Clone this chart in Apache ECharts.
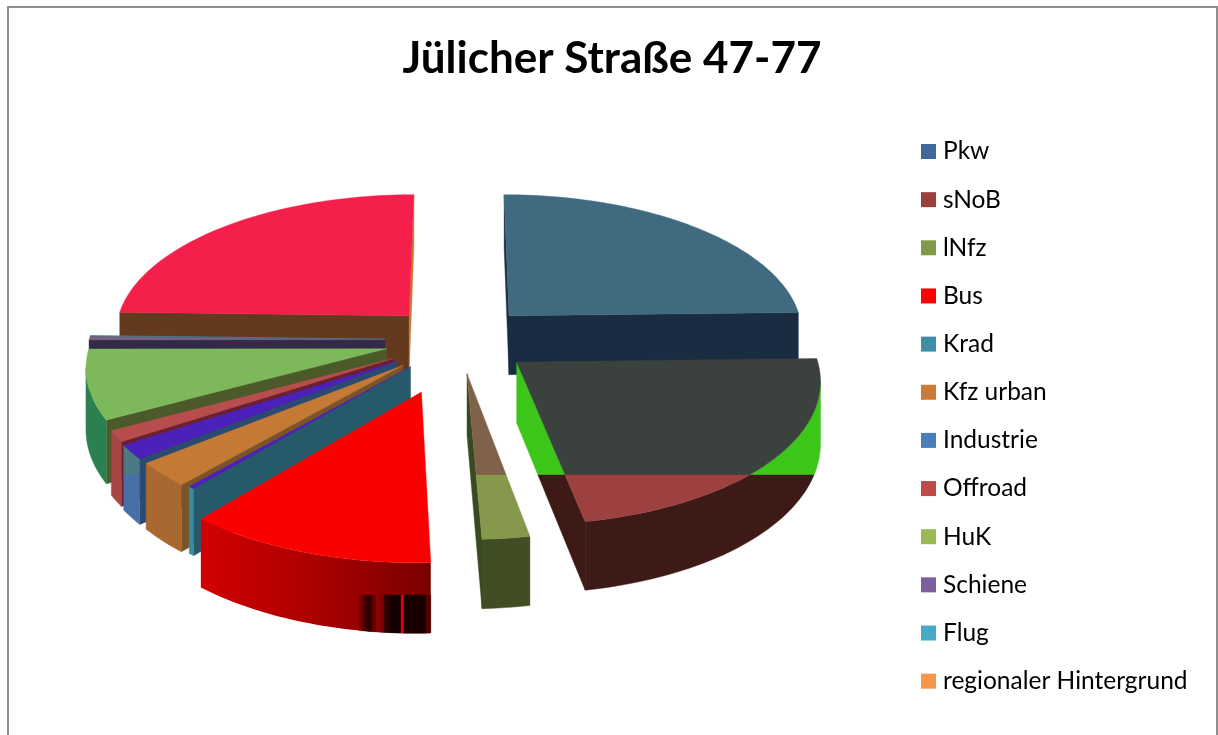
<!DOCTYPE html>
<html><head><meta charset="utf-8">
<style>html,body{margin:0;padding:0;background:#fff}#c{width:1218px;height:735px}</style>
<script src="https://cdn.jsdelivr.net/npm/echarts@6/dist/echarts.min.js"></script>
</head><body><div id="c"></div>
<script>
const titleText = 'Jülicher Straße 47-77';
const categories = ['Pkw','sNoB','lNfz','Bus','Krad','Kfz urban','Industrie','Offroad','HuK','Schiene','Flug','regionaler Hintergrund'];
const shares = [24.6,22.5,2.25,11.75,0.3,2.8,1.62,1.25,7.9,0.4,0.05,24.58];
const legendColors = ['#3f689b','#9b3f3d','#7f9a48','#ff0000','#3d8ea6','#cb7a37','#4a7ebb','#be4b48','#98b954','#7d5fa0','#46aac4','#f79646'];
const explode = [73,73,70,112,73,76,76,75,74,74,74,73];
const drawOrder = [11,10,9,8,7,6,5,4,0,1,2,3];
const faceStyles = [
 {top:'#3f6a80',start:'#1a2c42',end:'#1a2c42',outer:'#1a2c42'},
 {top:'#9c4040',topA:'#3b413c',start:'#3e1a16',end:'#3e1a16',endA:'#3cc61a',outer:'#3e1a16',outerA:'#3cc61a'},
 {top:'#85984c',topA:'#80624a',start:'#3d4a20',end:'#3a4a20',outer:'#414e24'},
 {top:'#fb0000',start:'#900',end:'#900',outer:'grad'},
 {top:'#4b20bb',start:'#265a6b',end:'#265a6b',outer:'#3a8a9f'},
 {top:'#c47935',start:'#7a5428',end:'#7a5428',outer:'#a86830'},
 {top:'#4b20bb',start:'#2a4a72',end:'#2a4a72',outer:'#4870a8',outerA:'#4a7a85'},
 {top:'#b84d4d',start:'#6a2030',end:'#6a2030',outer:'#a84545'},
 {top:'#7db95a',start:'#4c5a2a',end:'#4c5a2a',outer:'#2a8050'},
 {top:'#7a6080',start:'#322a48',end:'#322a48',outer:'#322a48'},
 {top:'#3d8ea6',start:'#265a6b',end:'#265a6b',outer:'#265a6b'},
 {top:'#f41f4a',start:'#643a1e',end:'#c47a30',outer:'#643a1e'}
];
const stripes = [[359,363,'#700000'],[363,366,'#500000'],[366,372,'#300000'],[372,376,'#600000'],[376,380,'#900000'],[380,384,'#800000'],[384,390,'#300000'],[390,401,'#140000'],[401,404,'#e00000'],[404,426,'#180000'],[426,431,'#500000']];

const CX=459, CY=340, R=296, RY=139.5, K=0.11, H=60, BAND=475, STRIPE_Y=595;
const total = shares.reduce((a,b)=>a+b,0);
const startOf = i => shares.slice(0,i).reduce((a,b)=>a+b,0)/total*360;
const rad = d => d*Math.PI/180;
function proj(X,Y,z){const s=1/(1-K*Y/R);return [CX+X*s, CY+RY/R*Y*s+z*H*s];}
function clip(poly,axis,keepLess,v){
  const out=[];
  for(let i=0;i<poly.length;i++){
    const a=poly[i],b=poly[(i+1)%poly.length];
    const ai=keepLess?a[axis]<=v:a[axis]>=v, bi=keepLess?b[axis]<=v:b[axis]>=v;
    if(ai)out.push(a);
    if(ai!==bi){const t=(v-a[axis])/(b[axis]-a[axis]);out.push([a[0]+t*(b[0]-a[0]),a[1]+t*(b[1]-a[1])]);}
  }
  return out;
}
function makeRender(idx){
  return function(params,api){
    const share=api.value(0);
    const t0=startOf(idx), t1=t0+share/total*360, m=rad((t0+t1)/2), E=explode[idx], st=faceStyles[idx];
    const ox=E*Math.sin(m), oy=-E*Math.cos(m);
    const at=(d,z)=>proj(ox+R*Math.sin(rad(d)),oy-R*Math.cos(rad(d)),z);
    const apex=z=>proj(ox,oy,z);
    const n=Math.max(2,Math.ceil((t1-t0)/1.5));
    const arc=[];for(let i=0;i<=n;i++)arc.push(t0+(t1-t0)*i/n);
    const children=[];
    const put=(pts,fill)=>{if(pts.length>2)children.push({type:'polygon',silent:true,shape:{points:pts},style:{fill:fill,stroke:(typeof fill==='string')?fill:null,lineWidth:(typeof fill==='string')?0.4:0}});};
    const face=(pts,below,above)=>{
      if(!above){put(pts,below);return;}
      put(clip(pts,1,true,BAND),above);put(clip(pts,1,false,BAND),below);
    };
    // side walls, only those facing the viewer
    if(at(t0,0)[0]<apex(0)[0]) face([apex(0),at(t0,0),at(t0,1),apex(1)],st.start,st.startA);
    if(apex(0)[0]<at(t1,0)[0]) face([at(t1,0),apex(0),apex(1),at(t1,1)],st.end,st.endA);
    // outer curved wall: only the arc parts that run right to left on screen
    const vis=[];
    for(let i=0;i<arc.length-1;i++){ if(at(arc[i+1],0)[0]<at(arc[i],0)[0]){ if(!vis.length)vis.push(arc[i]); vis.push(arc[i+1]); } }
    if(vis.length>1){
      const poly=vis.map(d=>at(d,0)).concat(vis.slice().reverse().map(d=>at(d,1)));
      if(st.outer==='grad'){
        put(poly,new echarts.graphic.LinearGradient(0,0,1,0,[{offset:0,color:'#d20000'},{offset:0.5,color:'#aa0000'},{offset:1,color:'#7a0000'}]));
        stripes.forEach(s=>{
          let p=clip(poly,1,false,STRIPE_Y);
          p=clip(p,0,false,s[0]);p=clip(p,0,true,s[1]);
          put(p,s[2]);
        });
      } else face(poly,st.outer,st.outerA);
    }
    // top face
    face([apex(0)].concat(arc.map(d=>at(d,0))),st.top,st.topA);
    return {type:'group',children};
  };
}
const series = categories.map((name,i)=>({
  type:'custom',name,coordinateSystem:'none',z:2+drawOrder.indexOf(i),silent:true,animation:false,clip:false,
  itemStyle:{color:legendColors[i]},
  data:[[shares[i]]],encode:{value:0},renderItem:makeRender(i)
}));
const chart=echarts.init(document.getElementById('c'),null,{renderer:'canvas'});
chart.setOption({
  animation:false,backgroundColor:'#fff',
  title:{text:titleText,left:607,textAlign:'center',top:32,textStyle:{fontFamily:'Lato',fontWeight:'bold',fontSize:44,color:'#000'}},
  legend:{orient:'vertical',left:921,top:139,padding:0,itemWidth:15,itemHeight:15,itemGap:23.15,icon:'rect',selectedMode:false,
    data:categories,textStyle:{fontFamily:'Lato',fontSize:24.5,lineHeight:22,color:'#000',padding:[0,0,0,2]}},
  graphic:[{type:'rect',silent:true,shape:{x:8,y:7,width:1209,height:740},style:{fill:null,stroke:'#8e8e8e',lineWidth:2}}],
  series
});
</script></body></html>
